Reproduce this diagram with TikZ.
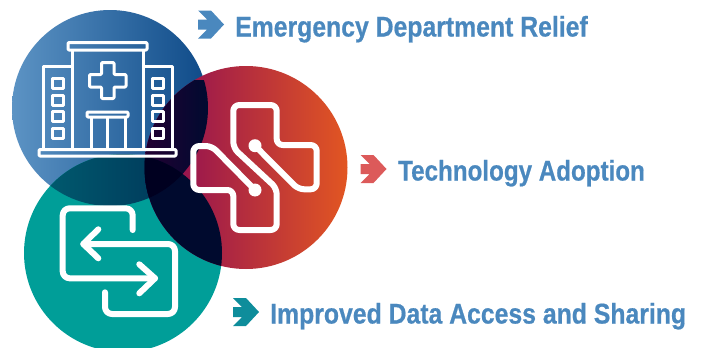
\documentclass[tikz,border=0pt]{standalone}
\usepackage{fontspec}
\setmainfont{Liberation Sans}[FakeStretch=0.85,BoldFeatures={FakeBold=0.6}]
\definecolor{labelblue}{HTML}{4A88BE}
\definecolor{arrowblue}{HTML}{4A88BE}
\definecolor{arrowred}{HTML}{DC5A5A}
\definecolor{arrowteal}{HTML}{0E8D9B}
\definecolor{discteal}{HTML}{009E98}
\definecolor{blueL}{RGB}{92,147,196}
\definecolor{blueR}{RGB}{14,74,136}
\definecolor{redL}{RGB}{136,6,88}
\definecolor{redM}{RGB}{176,42,74}
\definecolor{redR}{RGB}{226,86,34}
\definecolor{btL}{RGB}{0,90,110}
\definecolor{btR}{RGB}{0,52,88}
\definecolor{brL}{RGB}{34,0,50}
\definecolor{brR}{RGB}{0,10,48}
\definecolor{trdark}{RGB}{0,10,46}
\definecolor{brtdark}{RGB}{0,0,32}
\newcommand{\bluedisc}{(110,108) circle [radius=98]}
\newcommand{\reddisc}{(246,167.5) circle [radius=101.5]}
\newcommand{\tealdisc}{(123,253) circle [radius=99]}
\tikzset{
  x=1pt,y=-1pt,
  lbl/.style={anchor=base west,inner sep=0pt,text=labelblue,font=\bfseries\fontsize{28.5}{28.5}\selectfont},
  thin icon/.style={draw=white,line width=3pt,line join=round},
  bold icon/.style={draw=white,line width=6pt,line join=round,line cap=round},
  chev/.pic={\fill[pic actions] (-13,-14)--(0,-14)--(13,0)--(0,14)--(-13,14)--(-4,5)--(-13,5)--(-13,-5)--(-4,-5)--cycle;}
}
\begin{document}
\begin{tikzpicture}
\useasboundingbox (0,0) rectangle (702,348);
% discs
\shade[left color=blueL,right color=blueR] \bluedisc;
\fill[discteal] \tealdisc;
\shade[left color=redL,middle color=redM,right color=redR] \reddisc;
% overlaps
\begin{scope}
  \clip \bluedisc;
  \clip \tealdisc;
  \shade[left color=btL,right color=btR] (45,154) rectangle (190,206);
\end{scope}
\begin{scope}
  \clip \bluedisc;
  \clip \reddisc;
  \shade[left color=brL,right color=brR] (145,80) rectangle (208,200);
\end{scope}
\begin{scope}
  \clip \tealdisc;
  \clip \reddisc;
  \fill[trdark] (140,150) rectangle (225,290);
\end{scope}
\begin{scope}
  \clip \bluedisc;
  \clip \reddisc;
  \clip \tealdisc;
  \fill[brtdark] (140,150) rectangle (225,290);
\end{scope}
% hospital
\draw[thin icon,rounded corners=1pt] (68,42.5) rectangle (147,50);
\draw[thin icon] (72,50)--(72,149) (143,50)--(143,149);
\draw[thin icon] (72,66)--(43,66)--(43,149) (143,66)--(172,66)--(172,149);
\draw[thin icon,rounded corners=1pt] (39,149.5) rectangle (176,156);
\foreach \yy in {78,95,111,128}{
  \draw[thin icon] (52,\yy) rectangle (63,\yy+10.5);
  \draw[thin icon] (152,\yy) rectangle (163,\yy+10.5);
}
\draw[thin icon,rounded corners=1pt] (101.5,62.5)--(114,62.5)--(114,74.5)--(126,74.5)--(126,87)--(114,87)--(114,98.5)--(101.5,98.5)--(101.5,87)--(89.5,87)--(89.5,74.5)--(101.5,74.5)--cycle;
\draw[thin icon,rounded corners=1pt] (87,112) rectangle (128,117);
\draw[thin icon] (91,117)--(91,149) (107.5,117)--(107.5,149) (125.5,117)--(125.5,149);
% digital cross
\draw[bold icon,rounded corners=6pt] (255,145.7)--(298.3,189.3)--(316.7,189.3)--(316.7,145)--(276.7,145)--(276.7,105)--(233.3,105)--(233.3,148)--(276.7,188.3)--(276.7,230)--(233.3,230)--(233.3,190)--(193.3,190)--(193.3,146)--(211.7,146)--(255,190);
\fill[white] (255,145.7) circle [radius=6.5] (255,190) circle [radius=6.5];
% exchange
\draw[bold icon,rounded corners=7pt] (132.7,230)--(132.7,208.3)--(62.7,208.3)--(62.7,278.3)--(155,278.3);
\draw[bold icon] (139.3,264.3)--(155,278.3)--(139.3,293.3);
\draw[bold icon,rounded corners=7pt] (105,292.3)--(105,314)--(175,314)--(175,244)--(83.3,244);
\draw[bold icon] (98.3,229.3)--(83.3,244)--(98.3,258.3);
% labels
\pic[fill=arrowblue] at (211,24.5) {chev};
\pic[fill=arrowred] at (373.5,169) {chev};
\pic[fill=arrowteal] at (246,312) {chev};
\node[lbl] (emerg) at (235,36.5) {\scalebox{1.023}[1]{Emergency Department Relief}};
\node[lbl] (tech) at (398,180.5) {\scalebox{0.998}[1]{Technology Adoption}};
\node[lbl] (data) at (270,323.5) {\scalebox{1.023}[1]{Improved Data Access and Sharing}};
\end{tikzpicture}
\end{document}
